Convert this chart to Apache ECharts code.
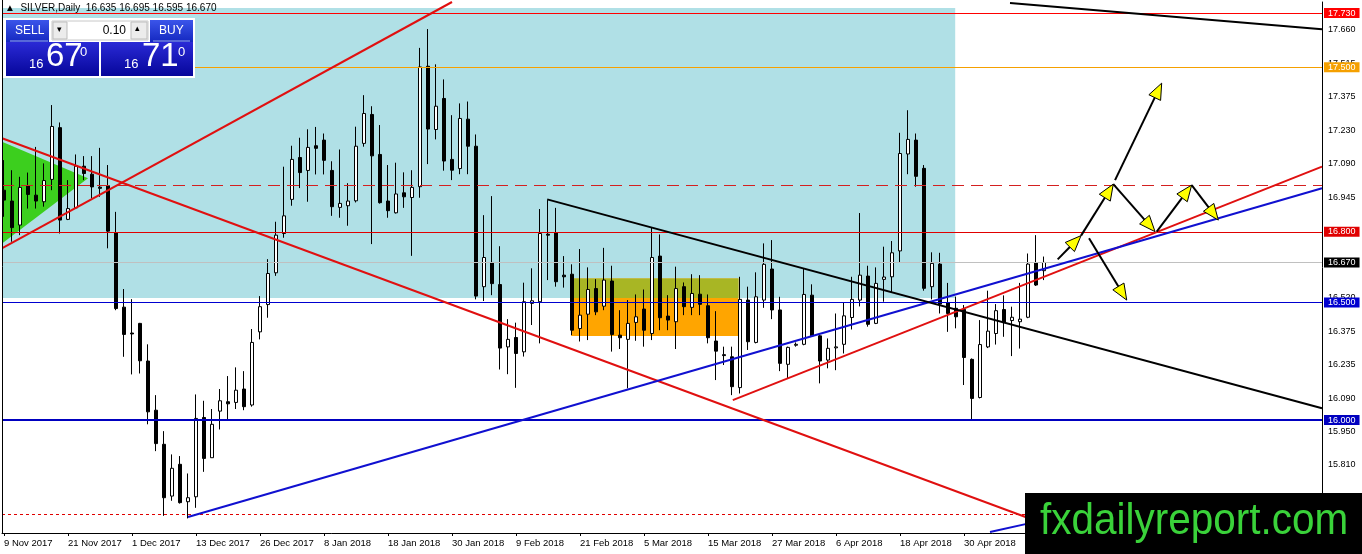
<!DOCTYPE html>
<html>
<head>
<meta charset="utf-8">
<script src="https://cdn.jsdelivr.net/npm/echarts@6/dist/echarts.min.js"></script>
<style>
html, body { margin: 0; padding: 0; background: #fff; }
#chart { width: 1362px; height: 554px; }
</style>
</head>
<body>
<div id="chart"></div>
<script>
// date labels, one every 8 daily bars
var dateLabels = ['9 Nov 2017', '21 Nov 2017', '1 Dec 2017', '13 Dec 2017', '26 Dec 2017', '8 Jan 2018',
  '18 Jan 2018', '30 Jan 2018', '9 Feb 2018', '21 Feb 2018', '5 Mar 2018', '15 Mar 2018',
  '27 Mar 2018', '6 Apr 2018', '18 Apr 2018', '30 Apr 2018'];

// daily SILVER bars
var opens = [16.977,16.931,16.829,16.995,16.956,16.928,17.023,17.243,16.853,16.902,17.079,17.045,16.990,16.996,16.796,16.480,16.370,16.411,16.251,16.042,
  15.897,15.677,15.812,15.653,15.674,16.011,15.840,16.038,16.078,16.075,16.132,16.064,16.375,16.491,16.626,16.793,16.938,17.116,17.061,17.166,
  17.190,17.061,16.904,16.911,16.932,17.176,17.299,17.129,16.931,16.881,16.966,16.946,16.992,17.504,17.235,17.367,17.108,17.069,17.279,17.164,
  16.567,16.670,16.576,16.311,16.351,16.290,16.496,16.503,16.790,16.796,16.616,16.620,16.389,16.450,16.559,16.484,16.591,16.361,16.343,16.415,
  16.472,16.368,16.697,16.442,16.418,16.567,16.479,16.535,16.486,16.336,16.278,16.269,16.138,16.510,16.330,16.510,16.642,16.468,16.237,16.318,
  16.322,16.531,16.358,16.255,16.307,16.322,16.436,16.510,16.612,16.411,16.598,16.609,16.719,17.131,17.190,17.070,16.567,16.663,16.499,16.475,
  16.470,16.258,16.096,16.311,16.368,16.470,16.423,16.418,16.437,16.669,16.635];
var highs = [17.105,17.062,17.034,17.052,17.161,17.091,17.339,17.265,17.020,17.129,17.122,17.122,17.157,17.084,16.885,16.557,16.514,16.413,16.322,16.106,
  15.953,15.854,15.847,15.773,16.109,16.082,16.047,16.132,16.187,16.224,16.208,16.387,16.527,16.684,16.843,17.077,17.166,17.200,17.236,17.246,
  17.218,17.100,17.150,17.007,17.247,17.381,17.334,17.254,17.084,17.094,17.053,17.062,17.582,17.662,17.512,17.448,17.296,17.346,17.354,17.214,
  16.871,16.952,16.739,16.429,16.414,16.584,16.645,16.897,16.935,16.902,16.697,16.662,16.727,16.649,16.599,16.732,16.656,16.467,16.510,16.534,
  16.555,16.817,16.789,16.531,16.652,16.585,16.620,16.616,16.534,16.463,16.312,16.312,16.609,16.567,16.628,16.751,16.765,16.524,16.312,16.330,
  16.642,16.577,16.361,16.347,16.453,16.500,16.609,16.880,16.656,16.649,16.737,16.761,17.221,17.317,17.218,17.084,16.713,16.711,16.583,16.525,
  16.489,16.262,16.425,16.550,16.493,16.530,16.482,16.583,16.708,16.786,16.695];
var lows = [16.864,16.758,16.786,16.899,16.899,16.907,16.977,16.793,16.850,16.899,17.020,16.942,16.949,16.730,16.467,16.269,16.194,16.198,15.982,15.868,
  15.593,15.657,15.645,15.582,15.627,15.780,15.840,15.960,16.004,16.047,16.042,16.057,16.343,16.435,16.613,16.775,16.911,16.986,16.928,17.044,
  17.044,16.868,16.860,16.826,16.925,17.162,16.748,16.920,16.860,16.878,16.902,16.698,16.945,17.088,17.193,17.060,17.020,17.045,17.045,16.513,
  16.506,16.531,16.215,16.195,16.137,16.270,16.404,16.326,16.595,16.567,16.563,16.361,16.334,16.340,16.446,16.467,16.291,16.302,16.135,16.337,
  16.312,16.340,16.382,16.382,16.302,16.446,16.446,16.446,16.326,16.170,16.234,16.106,16.113,16.298,16.326,16.477,16.429,16.208,16.177,16.312,
  16.318,16.355,16.156,16.220,16.212,16.283,16.385,16.483,16.397,16.408,16.503,16.541,16.669,17.045,16.992,16.550,16.513,16.453,16.375,16.390,
  16.149,15.999,16.092,16.306,16.321,16.354,16.272,16.304,16.433,16.570,16.595];
var closes = [16.935,16.818,16.989,16.959,16.931,17.018,17.248,16.850,16.899,17.079,17.048,16.991,16.985,16.803,16.474,16.364,16.366,16.252,16.035,15.900,
  15.670,15.795,15.649,15.670,16.007,15.837,15.982,16.082,16.069,16.127,16.057,16.330,16.482,16.623,16.786,16.868,17.108,17.052,17.159,17.155,
  17.104,16.907,16.921,16.931,17.164,17.303,17.123,16.924,16.890,16.961,16.949,16.989,17.501,17.237,17.334,17.101,17.062,17.282,17.164,16.527,
  16.691,16.580,16.306,16.343,16.283,16.503,16.507,16.793,16.786,16.588,16.609,16.382,16.446,16.555,16.460,16.595,16.364,16.350,16.411,16.439,
  16.382,16.691,16.435,16.425,16.559,16.482,16.538,16.492,16.350,16.293,16.274,16.142,16.513,16.333,16.524,16.662,16.468,16.241,16.309,16.322,
  16.534,16.358,16.251,16.305,16.311,16.443,16.513,16.616,16.407,16.581,16.608,16.711,17.133,17.193,17.036,16.560,16.666,16.493,16.453,16.439,
  16.266,16.092,16.321,16.378,16.465,16.414,16.437,16.429,16.663,16.574,16.670];

// right scale labels and horizontal levels
var priceTicks = [15.670, 15.810, 15.950, 16.090, 16.235, 16.375, 16.520, 16.665, 16.805, 16.945, 17.090, 17.230, 17.375, 17.515, 17.660];
var levelPrices = [17.730, 17.500, 16.800, 16.670, 16.500, 16.000];
var dashedLevel = 17.000;
var dottedLevel = 15.596;

// drawn objects in [bar index, price]
var zones = [[-0.25, 16.519, 118.9, 17.752], [70.9, 16.357, 91.8, 16.602], [70.9, 16.519, 91.8, 16.602]];
var wedge = [-0.25, 17.183, -0.25, 16.751, 10.5, 17.028];
var redLines = [[[-0.16, 16.732], [56.0, 17.777]], [[-0.16, 17.197], [132, 15.534]], [[91.1, 16.085], [164.75, 17.077]]];
var blueLines = [[[23, 15.588], [164.75, 16.985]], [[123.25, 15.524], [128.25, 15.562]]];
var blackLines = [[[67.9, 16.938], [164.75, 16.050]], [[125.75, 17.773], [164.75, 17.661]]];
var arrows = [
  [131.71, 16.683, 134.63, 16.784],
  [134.63, 16.784, 138.66, 17.003],
  [138.88, 17.020, 144.71, 17.432],
  [138.66, 17.003, 143.88, 16.801],
  [144.09, 16.801, 148.46, 16.999],
  [148.46, 16.999, 151.79, 16.850],
  [135.63, 16.773, 140.34, 16.510]
];

var FONT = 'Liberation Sans';
var zoneColors = ['#b0e0e6', '#ffa500', '#a8b624'];
var levelColors = ['#ff0000', '#f5a000', '#e00000', '#000000', '#0000d0', '#0000c0'];

var chart = echarts.init(document.getElementById('chart'), null, {renderer: 'canvas'});

var candles = opens.map(function (o, i) { return [i, o, closes[i], lows[i], highs[i]]; });
var labelIdx = dateLabels.map(function (d, k) { return k * 8; });

var levelData = levelPrices.map(function (v, k) {
  return {
    yAxis: v,
    lineStyle: {color: k == 3 ? '#c0c0c0' : levelColors[k], width: k == 5 ? 2 : 1, type: 'solid'},
    label: {
      show: true, position: 'end', distance: 2,
      formatter: v.toFixed(3), color: '#fff', backgroundColor: levelColors[k],
      fontSize: 9, fontFamily: FONT, lineHeight: 9, padding: [1, 4, 0, 4]
    }
  };
});
levelData.push({yAxis: dashedLevel, lineStyle: {color: '#d42020', width: 1, type: [12, 7]}, label: {show: false}});
levelData.push({yAxis: dottedLevel, lineStyle: {color: '#e00000', width: 1, type: [3, 3]}, label: {show: false}});

function segSeries(list, color) {
  return list.map(function (seg) {
    return {
      type: 'line', data: seg, showSymbol: false, symbol: 'none', silent: true, z: 6,
      lineStyle: {color: color, width: 2}
    };
  });
}

var series = [
  {
    type: 'custom', z: 1, silent: true, clip: true,
    data: zones, encode: {x: [0, 2], y: [1, 3]},
    renderItem: function (params, api) {
      var p1 = api.coord([api.value(0), api.value(3)]);
      var p2 = api.coord([api.value(2), api.value(1)]);
      return {type: 'rect', shape: {x: p1[0], y: p1[1], width: p2[0] - p1[0], height: p2[1] - p1[1]},
        style: {fill: zoneColors[params.dataIndex]}};
    }
  },
  {
    type: 'custom', z: 2, silent: true, clip: true,
    data: [wedge], encode: {x: [0, 2, 4], y: [1, 3, 5]},
    renderItem: function (params, api) {
      var pts = [0, 2, 4].map(function (d) { return api.coord([api.value(d), api.value(d + 1)]); });
      return {type: 'polygon', shape: {points: pts}, style: {fill: '#3ccf1e'}};
    }
  },
  {
    type: 'candlestick', z: 3, silent: true, barWidth: 4,
    data: candles, encode: {x: 0, y: [1, 2, 3, 4]},
    itemStyle: {color: '#fff', color0: '#000', borderColor: '#000', borderColor0: '#000', borderWidth: 1}
  },
  {
    type: 'line', data: [], z: 5, silent: true,
    markLine: {symbol: 'none', silent: true, animation: false, data: levelData}
  }
].concat(segSeries(redLines, '#e01010'), segSeries(blueLines, '#1010d0'), segSeries(blackLines, '#000'));

series.push({
  type: 'custom', z: 7, silent: true, clip: false,
  data: arrows, encode: {x: [0, 2], y: [1, 3]},
  renderItem: function (params, api) {
    var a = api.coord([api.value(0), api.value(1)]);
    var b = api.coord([api.value(2), api.value(3)]);
    var dx = b[0] - a[0], dy = b[1] - a[1];
    var len = Math.sqrt(dx * dx + dy * dy);
    var ux = dx / len, uy = dy / len, hl = 16, hw = 6.5;
    var bx = b[0] - ux * hl, by = b[1] - uy * hl;
    return {type: 'group', children: [
      {type: 'line', shape: {x1: a[0], y1: a[1], x2: bx, y2: by}, style: {stroke: '#000', lineWidth: 2}},
      {type: 'polygon', shape: {points: [[b[0], b[1]], [bx - uy * hw, by + ux * hw], [bx + uy * hw, by - ux * hw]]},
        style: {fill: '#ffff00', stroke: '#000', lineWidth: 1}}
    ]};
  }
});

var btnGrad = new echarts.graphic.LinearGradient(0, 0, 0, 1, [{offset: 0, color: '#3b55ea'}, {offset: 1, color: '#1428c0'}]);
var boxGrad = new echarts.graphic.LinearGradient(0, 0, 0, 1, [{offset: 0, color: '#2a2ad6'}, {offset: 1, color: '#06069a'}]);

var graphic = [
  {type: 'line', z: 90, shape: {x1: 2.5, y1: 0, x2: 2.5, y2: 533}, style: {stroke: '#000', lineWidth: 1}},
  {type: 'text', x: 5, y: 3, z: 100, style: {text: '\u25B2  SILVER,Daily  16.635 16.695 16.595 16.670', fill: '#000', fontSize: 10, fontFamily: FONT}},
  {type: 'rect', z: 100, shape: {x: 3, y: 18, width: 192, height: 60}, style: {fill: '#fff'}},
  {type: 'rect', z: 101, shape: {x: 6, y: 20, width: 43, height: 22}, style: {fill: btnGrad}},
  {type: 'rect', z: 101, shape: {x: 150, y: 20, width: 43, height: 22}, style: {fill: btnGrad}},
  {type: 'rect', z: 101, shape: {x: 52, y: 21, width: 96, height: 19}, style: {fill: '#fff', stroke: '#c8c8c8', lineWidth: 1}},
  {type: 'rect', z: 102, shape: {x: 53, y: 22, width: 14, height: 17}, style: {fill: '#ececec', stroke: '#bdbdbd', lineWidth: 1}},
  {type: 'rect', z: 102, shape: {x: 131, y: 22, width: 16, height: 17}, style: {fill: '#ececec', stroke: '#bdbdbd', lineWidth: 1}},
  {type: 'text', z: 103, x: 57, y: 25, style: {text: '\u25BE', fill: '#000', fontSize: 9, fontFamily: 'DejaVu Sans'}},
  {type: 'text', z: 103, x: 135, y: 24, style: {text: '\u25B4', fill: '#000', fontSize: 9, fontFamily: 'DejaVu Sans'}},
  {type: 'text', z: 103, x: 126, y: 31, style: {text: '0.10', fill: '#000', fontSize: 12, fontFamily: FONT, align: 'right', verticalAlign: 'middle'}},
  {type: 'text', z: 103, x: 15, y: 31, style: {text: 'SELL', fill: '#fff', fontSize: 12, fontFamily: FONT, verticalAlign: 'middle'}},
  {type: 'text', z: 103, x: 159, y: 31, style: {text: 'BUY', fill: '#fff', fontSize: 12, fontFamily: FONT, verticalAlign: 'middle'}},
  {type: 'rect', z: 101, shape: {x: 6, y: 42, width: 93, height: 34}, style: {fill: boxGrad}},
  {type: 'rect', z: 101, shape: {x: 101, y: 42, width: 92, height: 34}, style: {fill: boxGrad}},
  {type: 'line', z: 102, shape: {x1: 10, y1: 41, x2: 48, y2: 41}, style: {stroke: '#9aa8f0', lineWidth: 1}},
  {type: 'line', z: 102, shape: {x1: 153, y1: 41, x2: 190, y2: 41}, style: {stroke: '#9aa8f0', lineWidth: 1}},
  {type: 'text', z: 103, x: 29, y: 71, style: {text: '16', fill: '#fff', fontSize: 13, fontFamily: FONT, verticalAlign: 'bottom'}},
  {type: 'text', z: 103, x: 46, y: 73, style: {text: '67', fill: '#fff', fontSize: 33, fontFamily: FONT, verticalAlign: 'bottom'}},
  {type: 'text', z: 103, x: 80, y: 46, style: {text: '0', fill: '#fff', fontSize: 13, fontFamily: FONT}},
  {type: 'text', z: 103, x: 124, y: 71, style: {text: '16', fill: '#fff', fontSize: 13, fontFamily: FONT, verticalAlign: 'bottom'}},
  {type: 'text', z: 103, x: 142, y: 73, style: {text: '71', fill: '#fff', fontSize: 33, fontFamily: FONT, verticalAlign: 'bottom'}},
  {type: 'text', z: 103, x: 178, y: 46, style: {text: '0', fill: '#fff', fontSize: 13, fontFamily: FONT}},
  {type: 'rect', z: 100, shape: {x: 1025, y: 493, width: 337, height: 61}, style: {fill: '#000'}},
  {type: 'text', z: 101, x: 1040, y: 522, scaleX: 0.92, style: {text: 'fxdailyreport.com', fill: '#3ad23a', fontSize: 44, fontFamily: FONT, verticalAlign: 'middle'}}
];

chart.setOption({
  animation: false,
  backgroundColor: '#fff',
  grid: {left: 2, right: 40, top: 2, bottom: 21},
  xAxis: {
    type: 'value', min: -0.25, max: 164.75,
    axisLine: {show: true, onZero: false, lineStyle: {color: '#000', width: 1}},
    axisTick: {show: true, length: 3, customValues: labelIdx, lineStyle: {color: '#000'}},
    axisLabel: {
      customValues: labelIdx, align: 'left', margin: 5, color: '#000', fontSize: 9.5, fontFamily: FONT,
      formatter: function (v) { return dateLabels[Math.round(v / 8)] || ''; }
    },
    splitLine: {show: false}
  },
  yAxis: {
    type: 'value', position: 'right', min: 15.52, max: 17.777,
    axisLine: {show: true, onZero: false, lineStyle: {color: '#000', width: 1}},
    axisTick: {show: false},
    axisLabel: {
      customValues: priceTicks, margin: 6, color: '#000', fontSize: 9, fontFamily: FONT,
      formatter: function (v) { return v.toFixed(3); }
    },
    splitLine: {show: false}
  },
  series: series,
  graphic: graphic
});
</script>
</body>
</html>
